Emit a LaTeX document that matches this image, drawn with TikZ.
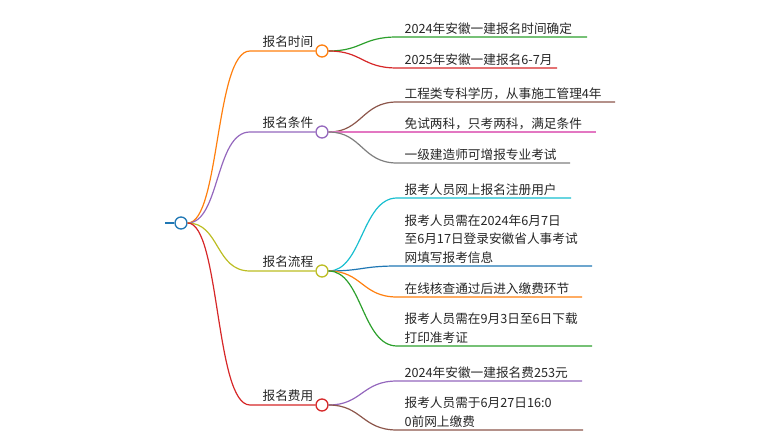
\documentclass[tikz,border=0pt]{standalone}
\usepackage{fontspec}
\setmainfont{Noto Sans CJK SC}
\definecolor{cA}{RGB}{255,127,14}
\definecolor{cB}{RGB}{148,103,189}
\definecolor{cC}{RGB}{188,189,34}
\definecolor{cD}{RGB}{214,39,40}
\definecolor{lg}{RGB}{44,160,44}
\definecolor{lr}{RGB}{214,39,40}
\definecolor{lbw}{RGB}{140,86,75}
\definecolor{lp}{RGB}{227,119,194}
\definecolor{lgr}{RGB}{127,127,127}
\definecolor{lc}{RGB}{23,190,207}
\definecolor{lb}{RGB}{31,119,180}
\definecolor{lo}{RGB}{255,127,14}
\definecolor{lpu}{RGB}{148,103,189}
\begin{document}
\begin{tikzpicture}[x=0.75pt,y=-0.75pt,
  dot/.style={circle,draw=#1,fill=white,line width=1pt,inner sep=0pt,minimum size=9pt},
  lbl/.style={anchor=south west,inner sep=1pt,font=\fontsize{9.5}{14}\selectfont,align=left,text=black!85},
  wire/.style={draw=#1,line width=0.9pt}]
\useasboundingbox (0,0) rectangle (780,441);
\coordinate (r0) at (165,223);
\node[dot=lb] (root) at (181,223) {};
\draw[wire=lb] (r0) -- (root);
\def\branch#1#2#3#4{%
  \coordinate (#1s) at (250,#2);
  \node[dot=#3] (#1) at (322,#2) {};
  \draw[wire=#3] (root.east) .. controls (220,223) and (215,#2) .. (#1s) -- (#1.west);
  \node[lbl] (#1t) at (261,#2-2) {#4};}
\branch{b1}{51}{cA}{报名时间}
\branch{b2}{132}{cB}{报名条件}
\branch{b3}{271}{cC}{报名流程}
\branch{b4}{405}{cD}{报名费用}
\def\by{51}
\def\leaf#1#2#3#4#5#6{%
  \coordinate (#2a) at (397,#3);
  \coordinate (#2b) at (#4,#3);
  \draw[wire=#5] (#1.east) .. controls (362,\by) and (362,#3) .. (#2a) -- (#2b);
  \node[lbl] (#2t) at (403,#3-1) {#6};}
\leaf{b1}{l1}{37}{587}{lg}{2024年安徽一建报名时间确定}
\leaf{b1}{l2}{68}{557}{lr}{2025年安徽一建报名6-7月}
\def\by{132}
\leaf{b2}{l3}{102}{615}{lbw}{工程类专科学历，从事施工管理4年}
\leaf{b2}{l4}{132}{596}{lp}{免试两科，只考两科，满足条件}
\leaf{b2}{l5}{163}{570}{lgr}{一级建造师可增报专业考试}
\def\by{271}
\leaf{b3}{l6}{198}{571}{lc}{报考人员网上报名注册用户}
\leaf{b3}{l7}{266}{592}{lb}{报考人员需在2024年6月7日\\至6月17日登录安徽省人事考试\\网填写报考信息}
\leaf{b3}{l8}{297}{582}{lo}{在线核查通过后进入缴费环节}
\leaf{b3}{l9}{346}{592}{lg}{报考人员需在9月3日至6日下载\\打印准考证}
\def\by{405}
\leaf{b4}{l10}{381}{582}{lpu}{2024年安徽一建报名费253元}
\leaf{b4}{l11}{430}{583}{lbw}{报考人员需于6月27日16:0\\0前网上缴费}
\end{tikzpicture}
\end{document}
